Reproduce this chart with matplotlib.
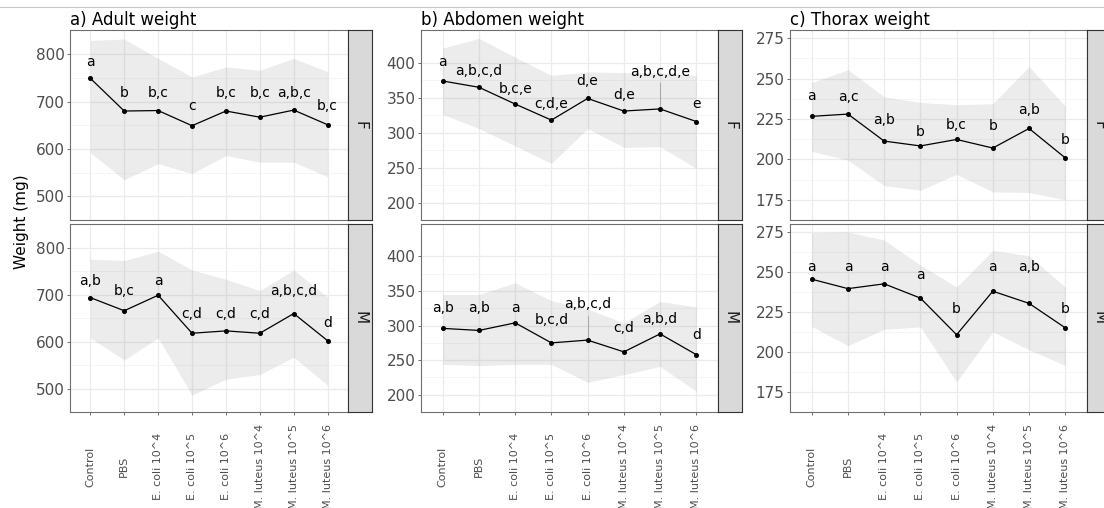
import matplotlib
matplotlib.use("Agg")
import matplotlib.pyplot as plt
from matplotlib.lines import Line2D

# Treatment groups along the x axis
treatments = ["Control", "PBS", "E. coli 10^4", "E. coli 10^5", "E. coli 10^6",
              "M. luteus 10^4", "M. luteus 10^5", "M. luteus 10^6"]

# a) Adult weight (mg): mean, band low/high, letter groups, letter height
adult_f_mean = [749, 680, 681, 649, 680, 667, 682, 651]
adult_f_lo = [592, 535, 569, 548, 586, 572, 572, 541]
adult_f_hi = [829, 832, 791, 752, 773, 766, 791, 763]
adult_f_let = ["a", "b", "b,c", "c", "b,c", "b,c", "a,b,c", "b,c"]
adult_f_lab = [783, 717, 717, 690, 717, 717, 717, 690]

adult_m_mean = [694, 666, 699, 618, 623, 618, 660, 602]
adult_m_lo = [608, 561, 608, 486, 520, 530, 567, 507]
adult_m_hi = [776, 773, 793, 753, 733, 709, 753, 695]
adult_m_let = ["a,b", "b,c", "a", "c,d", "c,d", "c,d", "a,b,c,d", "d"]
adult_m_lab = [729, 709, 729, 660, 660, 660, 709, 640]

# b) Abdomen weight (mg)
abd_f_mean = [374, 365, 341, 318, 349, 331, 334, 316]
abd_f_lo = [326, 306, 281, 256, 306, 279, 280, 249]
abd_f_hi = [421, 435, 408, 382, 387, 386, 386, 382]
abd_f_let = ["a", "a,b,c,d", "b,c,e", "c,d,e", "d,e", "d,e", "a,b,c,d,e", "e"]
abd_f_lab = [401, 388, 363, 341, 374, 354, 387, 341]

abd_m_mean = [296, 293, 304, 275, 279, 262, 288, 258]
abd_m_lo = [244, 242, 244, 244, 218, 229, 241, 205]
abd_m_hi = [345, 345, 362, 336, 324, 304, 335, 327]
abd_m_let = ["a,b", "a,b", "a", "b,c,d", "a,b,c,d", "c,d", "a,b,d", "d"]
abd_m_lab = [326, 326, 326, 308, 331, 297, 309, 286]

# c) Thorax weight (mg)
thx_f_mean = [226.6, 228.0, 211.3, 208.3, 212.3, 207.0, 219.1, 200.9]
thx_f_lo = [205.0, 199.5, 183.8, 180.9, 190.7, 179.9, 179.5, 175.0]
thx_f_hi = [247.5, 255.4, 238.7, 235.2, 233.8, 234.4, 257.4, 232.8]
thx_f_let = ["a", "a,c", "a,b", "b", "b,c", "b", "a,b", "b"]
thx_f_lab = [239.0, 238.3, 224.6, 217.2, 221.1, 220.7, 230.5, 211.7]

thx_m_mean = [245.5, 239.6, 242.6, 233.7, 210.8, 238.0, 230.4, 215.1]
thx_m_lo = [216.0, 204.0, 214.2, 215.7, 181.3, 212.6, 201.4, 191.6]
thx_m_hi = [274.5, 275.0, 270.0, 254.3, 240.6, 263.5, 260.2, 240.6]
thx_m_let = ["a", "a", "a", "a", "b", "a", "a,b", "b"]
thx_m_lab = [252.9, 252.9, 252.9, 248.4, 226.9, 252.9, 252.9, 226.9]

W, H = 1104, 508
GREY_TXT = "#4D4D4D"
BORDER = "#6E6E6E"


def px_rect(left, top, right, bottom):
    """Convert a pixel box (origin top-left) to figure coordinates."""
    return [left / W, 1 - bottom / H, (right - left) / W, (bottom - top) / H]


def draw_panel(ax, mean, lo, hi, letters, label_y, ylim, yticks, leaders, show_x):
    x = list(range(1, len(mean) + 1))
    step = yticks[1] - yticks[0]

    ax.set_xlim(0.4, len(mean) + 0.6)
    ax.set_ylim(*ylim)
    ax.set_yticks(yticks)
    ax.set_yticks([t + step / 2 for t in yticks[:-1]] + [yticks[0] - step / 2], minor=True)
    ax.set_xticks(x)

    ax.grid(which="major", color="#EBEBEB", linewidth=0.9, zorder=0)
    ax.grid(which="minor", axis="y", color="#F2F2F2", linewidth=0.5, zorder=0)
    ax.set_axisbelow(True)

    # spread band, mean line and group letters
    ax.fill_between(x, lo, hi, color="grey", alpha=0.15, linewidth=0, zorder=1)
    ax.plot(x, mean, color="black", linewidth=0.9, marker="o", markersize=2.6, zorder=3)
    for i, (lab, y) in enumerate(zip(letters, label_y)):
        ax.text(x[i], y, lab, ha="center", va="center", fontsize=10, zorder=4)
    gap = 0.065 * (ylim[1] - ylim[0])
    for i in leaders:
        ax.plot([x[i], x[i]], [mean[i], label_y[i] - gap], color="#A0A0A0",
                linewidth=0.6, zorder=2)

    for s in ax.spines.values():
        s.set_color(BORDER)
        s.set_linewidth(0.8)
    ax.tick_params(axis="y", which="major", length=2.5, width=0.7, color=BORDER,
                   labelsize=11, labelcolor=GREY_TXT, pad=1.5)
    ax.tick_params(axis="y", which="minor", length=0)
    if show_x:
        ax.set_xticklabels(treatments, rotation=90, fontsize=8, color=GREY_TXT,
                           va="center", ha="center")
        ax.tick_params(axis="x", length=2.5, width=0.7, color=BORDER, pad=37)
    else:
        ax.tick_params(axis="x", length=0, labelbottom=False)


def draw_strip(fig, rect, label):
    st = fig.add_axes(rect)
    st.set_facecolor("#D9D9D9")
    st.set_xticks([])
    st.set_yticks([])
    for s in st.spines.values():
        s.set_color("#333333")
        s.set_linewidth(0.8)
    st.text(0.5, 0.5, label, rotation=-90, ha="center", va="center",
            fontsize=11, color="#1A1A1A", transform=st.transAxes)


fig = plt.figure(figsize=(W / 100, H / 100), dpi=100)

columns = [
    dict(title="a) Adult weight", left=70, right=348,
         ylim=(467, 851), yticks=[500, 600, 700, 800],
         F=(adult_f_mean, adult_f_lo, adult_f_hi, adult_f_let, adult_f_lab, []),
         M=(adult_m_mean, adult_m_lo, adult_m_hi, adult_m_let, adult_m_lab, [])),
    dict(title="b) Abdomen weight", left=421, right=718,
         ylim=(193, 447), yticks=[200, 250, 300, 350, 400],
         F=(abd_f_mean, abd_f_lo, abd_f_hi, abd_f_let, abd_f_lab, [6]),
         M=(abd_m_mean, abd_m_lo, abd_m_hi, abd_m_let, abd_m_lab, [4])),
    dict(title="c) Thorax weight", left=790, right=1087,
         ylim=(169.5, 280), yticks=[175, 200, 225, 250, 275],
         F=(thx_f_mean, thx_f_lo, thx_f_hi, thx_f_let, thx_f_lab, []),
         M=(thx_m_mean, thx_m_lo, thx_m_hi, thx_m_let, thx_m_lab, [])),
]

rows = [("F", 30, 220), ("M", 224, 412)]

for col in columns:
    for sex, top, bottom in rows:
        ax = fig.add_axes(px_rect(col["left"], top, col["right"], bottom))
        mean, lo, hi, let, lab, leaders = col[sex]
        draw_panel(ax, mean, lo, hi, let, lab, col["ylim"], col["yticks"],
                   leaders, show_x=(sex == "M"))
        draw_strip(fig, px_rect(col["right"], top, col["right"] + 24, bottom), sex)
    fig.text(col["left"] / W, 1 - 25 / H, col["title"], fontsize=12,
             ha="left", va="baseline")

fig.text(22 / W, 1 - 222 / H, "Weight (mg)", rotation=90, fontsize=11,
         ha="center", va="center")

# thin rule across the top
fig.add_artist(Line2D([0, 1], [1 - 7 / H, 1 - 7 / H], color="#C8C8C8",
                      linewidth=0.8, transform=fig.transFigure))

fig.savefig("out.png", dpi=100)
